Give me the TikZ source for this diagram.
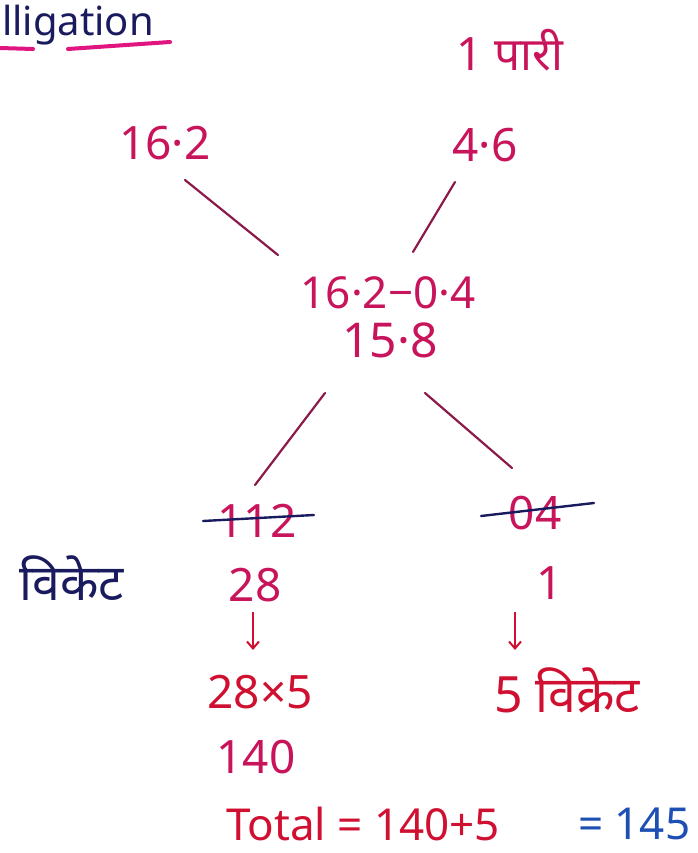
\documentclass[tikz,border=0pt]{standalone}
\usepackage{fontspec}
\setmainfont{Noto Sans}
\newfontfamily\hindi[Script=Devanagari]{Noto Sans}
\usetikzlibrary{arrows.meta}
\definecolor{ink}{HTML}{C8145A}
\definecolor{navy}{HTML}{1A1A5E}
\definecolor{pinkline}{HTML}{E0157F}
\definecolor{linec}{HTML}{8B1A4A}
\definecolor{redink}{HTML}{D01030}
\definecolor{blueink}{HTML}{1E50B4}
\tikzset{
  num/.style={inner sep=0pt, text=ink, font=\fontsize{46}{50}\selectfont},
  hin/.style={inner sep=0pt, font=\hindi\fontsize{50}{54}\selectfont},
  conn/.style={draw=linec, line width=2.2pt, line cap=round},
  strike/.style={draw=navy, line width=2.4pt, line cap=round},
  darrow/.style={draw=redink, line width=2pt, -{Straight Barb[length=7pt,width=12pt]}},
}
\begin{document}
\begin{tikzpicture}[x=1pt,y=1pt]
\useasboundingbox (0,0) rectangle (697,-853);
% title
\node[inner sep=0pt, anchor=base west, text=navy, font=\fontsize{40}{44}\selectfont] (title) at (2,-36) {lligation};
\draw[draw=pinkline, line width=4pt, line cap=round] (0,-48) -- (33,-49);
\draw[draw=pinkline, line width=4pt, line cap=round] (68,-49) -- (170,-42);
% top
\node[hin, text=ink, font=\hindi\fontsize{46}{50}\selectfont] (pari) at (510,-50) {1 पारी};
\node[num] (a) at (165,-143) {16·2};
\node[num] (b) at (485,-145) {4·6};
\node[num, font=\fontsize{44}{48}\selectfont] (m1) at (388,-293) {16·2−0·4};
\node[num, font=\fontsize{48}{52}\selectfont] (m2) at (390,-340) {15·8};
\coordinate (l1s) at (185,-180); \coordinate (l1e) at (278,-255);
\coordinate (l2s) at (455,-182); \coordinate (l2e) at (413,-252);
\coordinate (l3s) at (325,-393); \coordinate (l3e) at (255,-485);
\coordinate (l4s) at (425,-393); \coordinate (l4e) at (512,-468);
\draw[conn] (l1s) -- (l1e);
\draw[conn] (l2s) -- (l2e);
\draw[conn] (l3s) -- (l3e);
\draw[conn] (l4s) -- (l4e);
% ratio
\node[num] (r1) at (257,-521) {112};
\node[num] (r2) at (535,-513) {04};
\draw[strike] (203,-521) -- (314,-515);
\draw[strike] (481,-516) -- (594,-503);
% wickets
\node[hin, text=navy, font=\hindi\fontsize{50}{54}\selectfont] (vik) at (72,-578) {विकेट};
\node[num] (w1) at (255,-585) {28};
\node[num] (w2) at (550,-583) {1};
\coordinate (d1s) at (253,-612); \coordinate (d1e) at (253,-650);
\coordinate (d2s) at (515,-612); \coordinate (d2e) at (515,-650);
\draw[darrow] (d1s) -- (d1e);
\draw[darrow] (d2s) -- (d2e);
\node[num, text=redink] (p1) at (260,-692) {28×5};
\node[hin, text=redink, font=\hindi\fontsize{50}{54}\selectfont] (p2) at (567,-690) {5 विक्रेट};
\node[num] (t1) at (256,-757) {140};
% total
\node[num, text=redink, anchor=west, font=\fontsize{44}{48}\selectfont] (tot) at (226,-824) {Total = 140+5};
\node[num, text=blueink, anchor=west, font=\fontsize{44}{48}\selectfont] (res) at (578,-824) {= 145};
\end{tikzpicture}
\end{document}
